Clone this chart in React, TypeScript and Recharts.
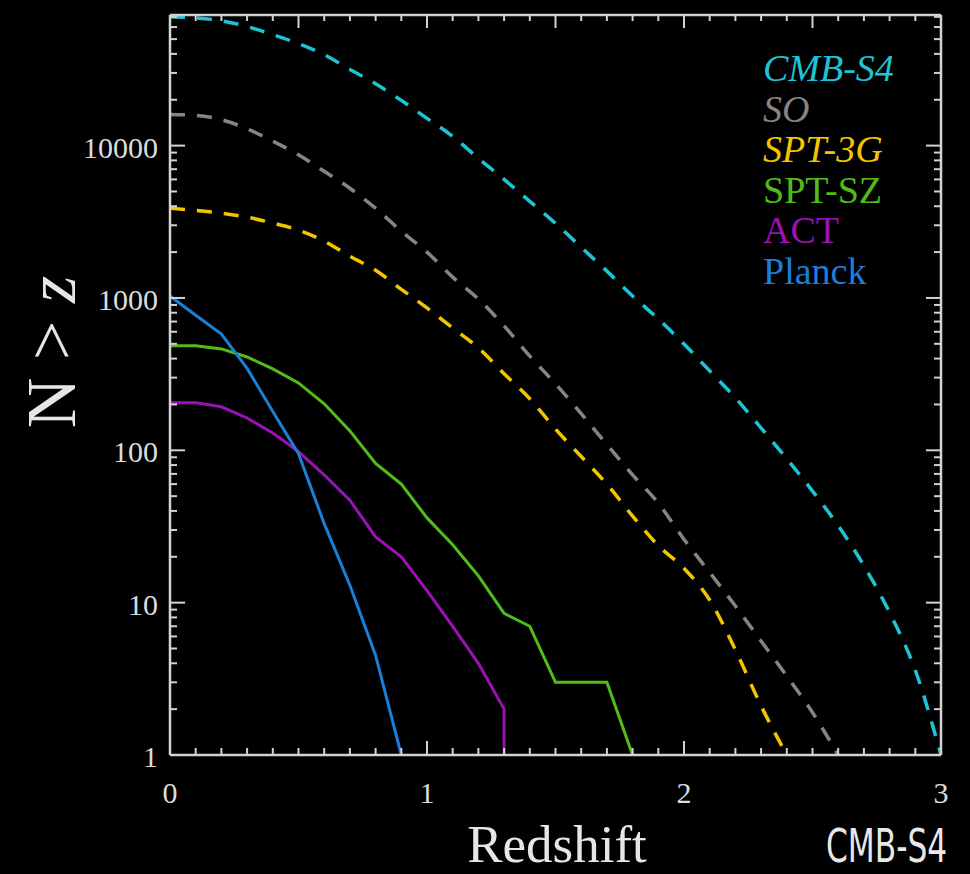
import React from 'react';
import { LineChart, Line, XAxis, YAxis, Legend } from 'recharts';

// cumulative cluster counts N(>z)

const zPlanck = [0, 0.1, 0.2, 0.3, 0.4, 0.5, 0.6, 0.7, 0.8, 0.9];
const nPlanck = [1030, 770, 580, 345, 180, 95, 33, 13, 4.5, 1];

const zAct = [0, 0.1, 0.2, 0.3, 0.4, 0.5, 0.6, 0.7, 0.8, 0.9, 1.0, 1.1, 1.2, 1.3, 1.3];
const nAct = [205, 205, 193, 163, 130, 98, 69, 47, 27, 20, 12, 7, 4, 2, 1];

const zSptSz = [0, 0.1, 0.2, 0.3, 0.4, 0.5, 0.6, 0.7, 0.8, 0.9, 1.0, 1.1, 1.2, 1.3, 1.4, 1.5, 1.6, 1.7, 1.8];
const nSptSz = [485, 485, 463, 410, 342, 277, 202, 134, 82, 60, 36, 24, 15, 8.5, 7, 3, 3, 3, 1];

const zSpt3g = [0, 0.1, 0.2, 0.3, 0.4, 0.5, 0.6, 0.7, 0.8, 0.9, 1.0, 1.1, 1.2, 1.3, 1.4, 1.5, 1.6, 1.7, 1.8, 1.9, 2.0, 2.1, 2.2, 2.3, 2.4];
const nSpt3g = [3880, 3760, 3600, 3390, 3100, 2790, 2360, 1880, 1520, 1140, 860, 635, 470, 318, 218, 138, 91, 60, 37, 23.7, 16.8, 10.4, 4.9, 2.1, 1];

const zSo = [0, 0.1, 0.2, 0.3, 0.4, 0.5, 0.6, 0.7, 0.8, 0.9, 1.0, 1.1, 1.2, 1.3, 1.4, 1.5, 1.6, 1.7, 1.8, 1.9, 2.0, 2.1, 2.2, 2.3, 2.4, 2.5, 2.6];
const nSo = [16000, 15800, 14800, 12900, 10700, 8700, 6780, 5250, 3880, 2740, 2000, 1370, 984, 655, 415, 273, 174, 109, 69, 45, 26, 15.8, 9.5, 5.6, 3.3, 1.9, 1];

const zS4 = [0, 0.1, 0.2, 0.3, 0.4, 0.5, 0.6, 0.7, 0.8, 0.9, 1.0, 1.1, 1.2, 1.3, 1.4, 1.5, 1.6, 1.7, 1.8, 1.9, 2.0, 2.1, 2.2, 2.3, 2.4, 2.5, 2.6, 2.7, 2.8, 2.9, 3.0];
const nS4 = [70200, 69000, 66000, 60500, 53500, 46700, 39500, 31600, 25500, 19800, 15100, 11500, 8240, 6000, 4310, 3090, 2150, 1500, 1030, 728, 499, 332, 221, 140, 88, 54, 32, 17.5, 8.6, 3.6, 1];

const legendNames = ['CMB-S4', 'SO', 'SPT-3G', 'SPT-SZ', 'ACT', 'Planck'];
const xTicks = [0, 0.1, 0.2, 0.3, 0.4, 0.5, 0.6, 0.7, 0.8, 0.9, 1, 1.1, 1.2, 1.3, 1.4, 1.5, 1.6, 1.7, 1.8, 1.9, 2, 2.1, 2.2, 2.3, 2.4, 2.5, 2.6, 2.7, 2.8, 2.9, 3];
const xLabels = [0, 1, 2, 3];
const yMajor = [1, 10, 100, 1000, 10000];
const yTicks = yMajor.flatMap((d) => [1, 2, 3, 4, 5, 6, 7, 8, 9].map((m) => m * d)).filter((v) => v <= 70000);

const COLORS: Record<string, string> = {
  'CMB-S4': '#1ec4d5',
  SO: '#858585',
  'SPT-3G': '#f3c500',
  'SPT-SZ': '#50bd18',
  ACT: '#9a12b3',
  Planck: '#1a7fd6',
};
const ITALIC: Record<string, boolean> = { 'CMB-S4': true, SO: true, 'SPT-3G': true };

const AXIS = '#d2d2d2';
const TEXT = '#dcdcdc';
const SERIF = "'Liberation Serif', 'DejaVu Serif', serif";

const toPoints = (zs: number[], ns: number[]) => zs.map((z, i) => ({ z, n: ns[i] }));

const LeftTick = (props: any) => {
  const { x, y, payload } = props;
  const major = yMajor.includes(payload.value);
  return (
    <g>
      <line x1={x} y1={y} x2={x + (major ? 15 : 7)} y2={y} stroke={AXIS} strokeWidth={2} />
      {major && (
        <text x={x - 12} y={y + 12} textAnchor="end" fill={TEXT} fontFamily={SERIF} fontSize={30}>
          {payload.value}
        </text>
      )}
    </g>
  );
};

const RightTick = (props: any) => {
  const { x, y, payload } = props;
  const major = yMajor.includes(payload.value);
  return <line x1={x} y1={y} x2={x - (major ? 15 : 7)} y2={y} stroke={AXIS} strokeWidth={2} />;
};

const BottomTick = (props: any) => {
  const { x, y, payload } = props;
  const major = xLabels.includes(payload.value);
  return (
    <g>
      <line x1={x} y1={y} x2={x} y2={y - (major ? 14 : 7)} stroke={AXIS} strokeWidth={2} />
      {major && (
        <text x={x} y={y + 48} textAnchor="middle" fill={TEXT} fontFamily={SERIF} fontSize={30}>
          {payload.value}
        </text>
      )}
    </g>
  );
};

const TopTick = (props: any) => {
  const { x, y, payload } = props;
  const major = Math.abs(payload.value * 2 - Math.round(payload.value * 2)) < 1e-6;
  return <line x1={x} y1={y} x2={x} y2={y + (major ? 13 : 6)} stroke={AXIS} strokeWidth={2} />;
};

const renderLegend = () => (
  <svg width={200} height={260}>
    {legendNames.map((name, i) => (
      <text
        key={name}
        x={0}
        y={41 + i * 40.5}
        fill={COLORS[name]}
        fontFamily={SERIF}
        fontSize={38}
        fontStyle={ITALIC[name] ? 'italic' : 'normal'}
      >
        {name}
      </text>
    ))}
  </svg>
);

const App = () => {
  const dashed = '15 12';
  return (
    <div style={{ position: 'absolute', left: 0, top: 0, width: 970, height: 874, background: '#000', overflow: 'hidden' }}>
      <LineChart width={970} height={874} margin={{ top: 14, right: 28, bottom: 0, left: 0 }}>
        <XAxis
          xAxisId="bottom"
          dataKey="z"
          type="number"
          domain={[0, 3]}
          allowDataOverflow
          ticks={xTicks}
          interval={0}
          height={119}
          tickSize={0}
          tickMargin={0}
          tickLine={false}
          axisLine={{ stroke: AXIS, strokeWidth: 2.5 }}
          tick={<BottomTick />}
        />
        <XAxis
          xAxisId="top"
          orientation="top"
          dataKey="z"
          type="number"
          domain={[0, 3]}
          allowDataOverflow
          ticks={xTicks}
          interval={0}
          height={1}
          tickSize={0}
          tickMargin={0}
          tickLine={false}
          axisLine={{ stroke: AXIS, strokeWidth: 2.5 }}
          tick={<TopTick />}
        />
        <YAxis
          yAxisId="left"
          scale="log"
          type="number"
          domain={[1, 72000]}
          allowDataOverflow
          ticks={yTicks}
          interval={0}
          width={170}
          tickSize={0}
          tickMargin={0}
          tickLine={false}
          axisLine={{ stroke: AXIS, strokeWidth: 2.5 }}
          tick={<LeftTick />}
        />
        <YAxis
          yAxisId="right"
          orientation="right"
          scale="log"
          type="number"
          domain={[1, 72000]}
          allowDataOverflow
          ticks={yTicks}
          interval={0}
          width={1}
          tickSize={0}
          tickMargin={0}
          tickLine={false}
          axisLine={{ stroke: AXIS, strokeWidth: 2.5 }}
          tick={<RightTick />}
        />
        <Legend
          content={renderLegend}
          layout="vertical"
          align="center"
          verticalAlign="middle"
          wrapperStyle={{ left: 763, top: 40, width: 200, height: 260 }}
        />
        {/* invisible series that binds the mirrored top/right axes of the frame */}
        <Line xAxisId="top" yAxisId="right" legendType="none" data={toPoints(zS4, nS4)} dataKey="n" stroke="none" dot={false} activeDot={false} isAnimationActive={false} />
        <Line xAxisId="bottom" yAxisId="left" name="CMB-S4" data={toPoints(zS4, nS4)} dataKey="n" type="monotone" stroke={COLORS['CMB-S4']} strokeWidth={3.5} strokeDasharray={dashed} dot={false} activeDot={false} isAnimationActive={false} />
        <Line xAxisId="bottom" yAxisId="left" name="SO" data={toPoints(zSo, nSo)} dataKey="n" type="monotone" stroke={COLORS.SO} strokeWidth={3.5} strokeDasharray={dashed} dot={false} activeDot={false} isAnimationActive={false} />
        <Line xAxisId="bottom" yAxisId="left" name="SPT-3G" data={toPoints(zSpt3g, nSpt3g)} dataKey="n" type="monotone" stroke={COLORS['SPT-3G']} strokeWidth={3.5} strokeDasharray={dashed} dot={false} activeDot={false} isAnimationActive={false} />
        <Line xAxisId="bottom" yAxisId="left" name="SPT-SZ" data={toPoints(zSptSz, nSptSz)} dataKey="n" type="linear" stroke={COLORS['SPT-SZ']} strokeWidth={3} dot={false} activeDot={false} isAnimationActive={false} />
        <Line xAxisId="bottom" yAxisId="left" name="ACT" data={toPoints(zAct, nAct)} dataKey="n" type="linear" stroke={COLORS.ACT} strokeWidth={3} dot={false} activeDot={false} isAnimationActive={false} />
        <Line xAxisId="bottom" yAxisId="left" name="Planck" data={toPoints(zPlanck, nPlanck)} dataKey="n" type="linear" stroke={COLORS.Planck} strokeWidth={3} dot={false} activeDot={false} isAnimationActive={false} />
      </LineChart>
      <svg width={970} height={874} style={{ position: 'absolute', left: 0, top: 0, pointerEvents: 'none' }}>
        <text transform="translate(75, 352) rotate(-90)" textAnchor="middle" fill="#e6e6e6" fontFamily={SERIF} fontSize={70}>
          N &gt; <tspan fontStyle="italic">z</tspan>
        </text>
        <text x={557} y={862} textAnchor="middle" fill="#e6e6e6" fontFamily={SERIF} fontSize={53}>
          Redshift
        </text>
        <text
          transform="translate(826, 862) scale(0.755, 1)"
          fill="#e8e8e8"
          fontFamily="'DejaVu Sans Condensed', sans-serif"
          fontSize={46}
        >
          CMB-S4
        </text>
      </svg>
    </div>
  );
};

export default App;
